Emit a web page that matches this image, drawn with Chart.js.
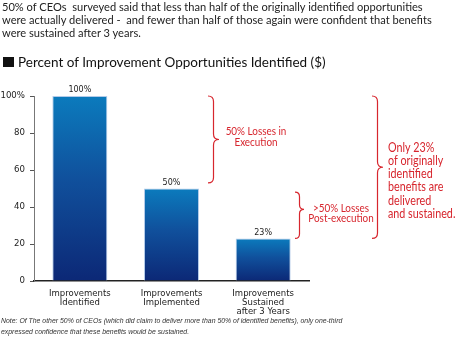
<!DOCTYPE html>
<html>
<head>
<meta charset="utf-8">
<script src="https://cdn.jsdelivr.net/npm/chart.js@4.4.1/dist/chart.umd.min.js"></script>
<style>
  body { margin: 0; background: #fff; }
  #wrap { position: relative; width: 455px; height: 344px; overflow: hidden; }
  #chartBox { position: absolute; left: 0; top: 0; width: 455px; height: 344px; }
  .intro { position: absolute; left: 2px; top: 0px; font: 11.1px/13px Lato, sans-serif; color: #222; white-space: nowrap; }
  .heading { position: absolute; left: 18px; top: 53px; font: 13.5px/18px Lato, sans-serif; color: #111; white-space: nowrap; }
  .heading-box { position: absolute; left: 3px; top: 57px; width: 11px; height: 10px; background: #111; }
  .note { position: absolute; left: 1px; top: 316px; font: italic 6.9px/10.5px "Liberation Sans", Arial, sans-serif; color: #333; white-space: nowrap; }
</style>
</head>
<body>
<div id="wrap">
  <div id="chartBox"><canvas id="myChart"></canvas></div>
  <div class="intro">50% of CEOs&nbsp; surveyed said that less than half of the originally identified opportunities<br>were actually delivered -&nbsp; and fewer than half of those again were confident that benefits<br>were sustained after 3 years.</div>
  <div class="heading-box"></div>
  <div class="heading">Percent of Improvement Opportunities Identified ($)</div>
  <div class="note">Note: Of The other 50% of CEOs (which did claim to deliver more than 50% of identified benefits), only one-third<br>expressed confidence that these benefits would be sustained.</div>
</div>
<script>
// Data
const categories = [
	["Improvements", "Identified"],
	["Improvements", "Implemented"],
	["Improvements", "Sustained", "after 3 Years"],
];
const percentValues = [100, 50, 23];
const valueLabels = ["100%", "50%", "23%"];
const yTickValues = [0, 20, 40, 60, 80, 100];

// Brace spans (top value, bottom value) and the notes next to them
const braceSpans = [
	[100, 53],
	[48, 23],
	[100, 23],
];
const braceNotes = [
	["50% Losses in", "Execution"],
	[">50% Losses", "Post-execution"],
	["Only 23%", "of originally", "identified", "benefits are", "delivered", "and sustained."],
];

const red = "#d7262e";
const ctx = document.getElementById("myChart").getContext("2d");

// --------------------------- Bar gradient ---------------------------
function barFill(context) {
	const chart = context.chart;
	const yScale = chart.scales.y;
	if (!yScale || !chart.chartArea) {
		return "#0f4f9a";
	}
	const top = yScale.getPixelForValue(context.parsed ? context.parsed.y : percentValues[context.dataIndex]);
	const bottom = yScale.getPixelForValue(0);
	const grad = chart.ctx.createLinearGradient(0, top, 0, bottom);
	grad.addColorStop(0, "#0b7bbd");
	grad.addColorStop(0.45, "#10509c");
	grad.addColorStop(1, "#0c2876");
	return grad;
}

// --------------------------- Curly brace ---------------------------
function drawBrace(c, x, yTop, yBot, w, tipAt) {
	const r = w / 2;
	const ym = yTop + (yBot - yTop) * tipAt;
	c.beginPath();
	c.moveTo(x, yTop);
	c.quadraticCurveTo(x + r, yTop, x + r, yTop + r);
	c.lineTo(x + r, ym - r);
	c.quadraticCurveTo(x + r, ym, x + w, ym);
	c.quadraticCurveTo(x + r, ym, x + r, ym + r);
	c.lineTo(x + r, yBot - r);
	c.quadraticCurveTo(x + r, yBot, x, yBot);
	c.stroke();
}

// value labels above each bar
const valueLabelPlugin = {
	id: "valueLabels",
	afterDatasetsDraw(chart) {
		const c = chart.ctx;
		const meta = chart.getDatasetMeta(0);
		c.save();
		c.font = "8px 'DejaVu Sans'";
		c.fillStyle = "#222";
		c.textAlign = "center";
		c.textBaseline = "bottom";
		meta.data.forEach((bar, i) => {
			c.fillText(valueLabels[i], bar.x, bar.y - 2);
		});
		c.restore();
	},
};

// red braces with their notes (text squeezed a little to stay narrow)
const bracePlugin = {
	id: "braces",
	afterDraw(chart) {
		const c = chart.ctx;
		const yScale = chart.scales.y;
		const layout = [
			{ x: 208, w: 11, tip: 0.5, textX: 256, align: "center", size: 11.5, lh: 11.6, dy: -2.5 },
			{ x: 295, w: 9, tip: 0.37, textX: 341, align: "center", size: 11.5, lh: 10.6, dy: -2 },
			{ x: 372, w: 11, tip: 0.5, textX: 388, align: "left", size: 12.5, lh: 13.2, dy: 13.5 },
		];
		c.save();
		c.strokeStyle = red;
		c.fillStyle = red;
		c.lineWidth = 1.2;
		braceSpans.forEach((span, i) => {
			const L = layout[i];
			const yTop = yScale.getPixelForValue(span[0]);
			const yBot = yScale.getPixelForValue(span[1]);
			drawBrace(c, L.x, yTop, yBot, L.w, L.tip);
			const lines = braceNotes[i];
			const first = (yTop + yBot) / 2 + L.dy - (lines.length - 1) * L.lh / 2;
			c.font = L.size + "px Lato";
			c.textAlign = L.align;
			c.textBaseline = "middle";
			lines.forEach((line, k) => {
				c.save();
				c.translate(L.textX, first + k * L.lh);
				c.scale(0.86, 1);
				c.fillText(line, 0, 0);
				c.restore();
			});
		});
		c.restore();
	},
};

// --------------------------- Chart Object ---------------------------
const surveyChart = new Chart(ctx, {
	type: "bar",
	data: {
		labels: categories,
		datasets: [
			{
				data: percentValues,
				backgroundColor: barFill,
				borderColor: "#b3cbe9",
				borderWidth: { top: 1, left: 1, right: 1, bottom: 0 },
				barPercentage: 0.6,
				categoryPercentage: 1,
			},
		],
	},
	options: {
		animation: false,
		responsive: true,
		maintainAspectRatio: false,
		layout: {
			padding: { top: 96, right: 146, left: 0, bottom: 0 },
		},
		plugins: {
			legend: { display: false },
			tooltip: { enabled: false },
		},
		scales: {
			x: {
				grid: { drawOnChartArea: false, drawTicks: false },
				border: { color: "#222", width: 1.5 },
				ticks: {
					color: "#222",
					padding: 8.5,
					maxRotation: 0,
					font: { family: "'DejaVu Sans'", size: 8.5, lineHeight: 1.06 },
				},
				afterFit: (scale) => {
					scale.height = 63;
				},
			},
			y: {
				min: 0,
				max: 100,
				afterBuildTicks: (scale) => {
					scale.ticks = yTickValues.map((v) => ({ value: v }));
				},
				grid: { drawOnChartArea: false, tickLength: 4, tickColor: "#555" },
				border: { color: "#777", dash: [1, 1], width: 1 },
				ticks: {
					color: "#222",
					padding: 5,
					font: { family: "'DejaVu Sans'", size: 8.6 },
					callback: (v) => (v === 100 ? "100%" : v),
				},
				afterFit: (scale) => {
					scale.width = 34;
				},
			},
		},
	},
	plugins: [valueLabelPlugin, bracePlugin],
});
</script>
</body>
</html>
